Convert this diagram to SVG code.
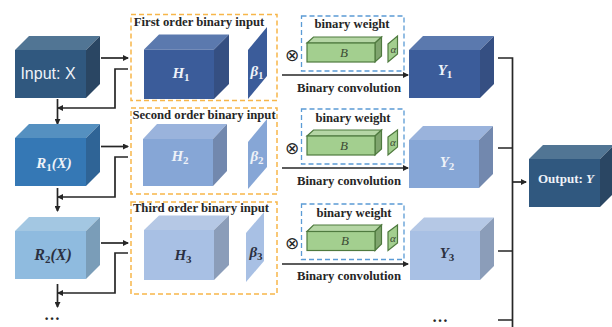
<svg xmlns="http://www.w3.org/2000/svg" width="612" height="327" viewBox="0 0 612 327">
<style>
text{font-family:"Liberation Serif",serif;text-anchor:middle}
.cap{font-size:12.700px;font-weight:bold;fill:#262626}
.cub{font-size:15px;font-weight:bold;font-style:italic}
.sub{font-size:11px;font-style:normal}
.w{fill:#eef2f8}
.d{fill:#262c3a}
.org{fill:none;stroke:#f7b64a;stroke-width:1.5;stroke-dasharray:5 3}
.blu{fill:none;stroke:#5b9bd5;stroke-width:1.3;stroke-dasharray:5 3}
.ln{fill:none;stroke:#262626;stroke-width:1.7}
.gr{stroke:#4f7a3f;stroke-width:1.2}
.b{font-size:13px;font-style:italic;fill:#3c4a35}
.al{font-size:11px;font-style:italic;fill:#3c4a35}
.ot{font-size:17px;fill:#262626;font-family:"DejaVu Sans",sans-serif}
.dots{font-size:16px;font-weight:bold;fill:#262626}
</style>
<defs>
<marker id="a" markerWidth="6" markerHeight="6" refX="5" refY="3" orient="auto" markerUnits="userSpaceOnUse"><path d="M0,0L6,3L0,6z" fill="#262626"/></marker>
</defs>
<rect width="612" height="327" fill="#fff"/>
<g id="connectors">
<path class="ln" d="M101,58H128" marker-end="url(#a)"/>
<path class="ln" d="M128,69H115V108H58" marker-end="url(#a)"/>
<path class="ln" d="M57.500,99V124" marker-end="url(#a)"/>
<path class="ln" d="M101,146.500H128" marker-end="url(#a)"/>
<path class="ln" d="M128,157H115V197H58" marker-end="url(#a)"/>
<path class="ln" d="M57.500,188V211" marker-end="url(#a)"/>
<path class="ln" d="M101,243H128" marker-end="url(#a)"/>
<path class="ln" d="M128,253H115V293H58" marker-end="url(#a)"/>
<path class="ln" d="M57.500,284V307" marker-end="url(#a)"/>
<path class="ln" d="M282,75H408" marker-end="url(#a)"/>
<path class="ln" d="M282,168H408" marker-end="url(#a)"/>
<path class="ln" d="M282,264H408" marker-end="url(#a)"/>
<path class="ln" d="M498,58H512.500V327M498,148H512.500M498,251H512.500M498,320H512.500"/>
<path class="ln" d="M512.500,182H526" marker-end="url(#a)"/>
</g>
<g id="node-input"><path d="M15,50L29,36H100L86,50z" fill="#517594"/><path d="M86,50L100,36V84L86,98z" fill="#2a4663"/><rect x="15" y="50" width="71" height="48" fill="#30587f"/><text x="48" y="79" font-size="16" class="w" style="font-family:'Liberation Sans',sans-serif">Input: X</text></g>
<g id="node-r1"><path d="M15,138L29,124H100L86,138z" fill="#5590c0"/><path d="M86,138L100,124V172L86,186z" fill="#2f6496"/><rect x="15" y="138" width="71" height="48" fill="#3578b5"/><text x="54" y="168" font-size="16" class="cub w">R<tspan class="sub" dy="3">1</tspan><tspan dy="-3">(X)</tspan></text></g>
<g id="node-r2"><path d="M15,231L29,217H100L86,231z" fill="#a3c7e2"/><path d="M86,231L100,217V265L86,279z" fill="#7a9db8"/><rect x="15" y="231" width="71" height="48" fill="#8fbbdf"/><text x="53" y="260" class="cub" fill="#2b3040" style="font-size:16px">R<tspan class="sub" dy="3">2</tspan><tspan dy="-3">(X)</tspan></text></g>
<g id="node-more-left"><text class="dots" x="52" y="320">…</text></g>
<g id="group-first"><rect class="org" x="131" y="14.500" width="146" height="86"/><text class="cap" x="199" y="26">First order binary input</text>
<path d="M144,49.500L159,34.500H229L214,49.500z" fill="#5b79ae"/><path d="M214,49.500L229,34.500V84L214,99z" fill="#354f82"/><rect x="144" y="49.500" width="70" height="49.500" fill="#3b5c9a"/><text x="181" y="78" class="cub w">H<tspan class="sub" dy="3">1</tspan></text>
<path d="M248,50L267,27V76L248,99z" fill="#3b5c9a"/><text x="257" y="76" class="cub w">β<tspan class="sub" dy="3">1</tspan></text></g>
<g id="group-second"><rect class="org" x="131" y="108" width="146" height="86"/><text class="cap" x="204" y="119">Second order binary input</text>
<path d="M143,139L157,124H227L213,139z" fill="#9ab3dc"/><path d="M213,139L227,124V171L213,186z" fill="#7288ae"/><rect x="143" y="139" width="70" height="47" fill="#86a6d6"/><text x="180" y="161" class="cub w">H<tspan class="sub" dy="3">2</tspan></text>
<path d="M248,142L267,119V167L248,189z" fill="#86a6d6"/><text x="257" y="161" class="cub w">β<tspan class="sub" dy="3">2</tspan></text></g>
<g id="group-third"><rect class="org" x="131" y="202" width="146" height="92"/><text class="cap" x="201" y="212">Third order binary input</text>
<path d="M144,230L159,215.500H229L214,230z" fill="#b5c8e5"/><path d="M214,230L229,215.500V265L214,280z" fill="#8b9db9"/><rect x="144" y="230" width="70" height="50" fill="#a8c0e4"/><text x="183" y="260" class="cub" fill="#2b3040">H<tspan class="sub" dy="3">3</tspan></text>
<path d="M246,233L264,212V261L246,282z" fill="#a8c0e4"/><text x="256" y="257" class="cub" fill="#2b3040">β<tspan class="sub" dy="3">3</tspan></text></g>
<g id="weight-1"><rect class="blu" x="301.500" y="16" width="102.500" height="55"/><text class="cap" x="352" y="28">binary weight</text>
<path class="gr" d="M307,43L313.500,37H381.500L375,43z" fill="#b5d6a5"/><path class="gr" d="M375,43L381.500,37V56L375,62z" fill="#7fa56e"/><rect class="gr" x="307" y="43" width="68" height="19" fill="#a3cf8f"/><text class="b" x="344" y="57">B</text>
<path class="gr" d="M388,44L397.500,36V54L388,62z" fill="#a3cf8f" stroke="#2f3d2a"/><text class="al" x="393.500" y="53">α</text>
<text class="ot" x="292" y="61">⊗</text><text class="cap" x="349" y="92">Binary convolution</text></g>
<g id="weight-2"><rect class="blu" x="301.500" y="109" width="102.500" height="55"/><text class="cap" x="353" y="122">binary weight</text>
<path class="gr" d="M307,136L313.500,130H381.500L375,136z" fill="#b5d6a5"/><path class="gr" d="M375,136L381.500,130V149L375,155z" fill="#7fa56e"/><rect class="gr" x="307" y="136" width="68" height="19" fill="#a3cf8f"/><text class="b" x="344" y="150">B</text>
<path class="gr" d="M388,137L397.500,130V147L388,155z" fill="#a3cf8f" stroke="#2f3d2a"/><text class="al" x="393" y="146">α</text>
<text class="ot" x="292" y="154">⊗</text><text class="cap" x="349" y="185">Binary convolution</text></g>
<g id="weight-3"><rect class="blu" x="301.500" y="204" width="102.500" height="55.500"/><text class="cap" x="354" y="217">binary weight</text>
<path class="gr" d="M307,231.500L313.500,225H381.500L375,231.500z" fill="#b5d6a5"/><path class="gr" d="M375,231.500L381.500,225V244L375,250.500z" fill="#7fa56e"/><rect class="gr" x="307" y="231.500" width="68" height="19" fill="#a3cf8f"/><text class="b" x="345" y="245">B</text>
<path class="gr" d="M388,232L397.500,225V243L388,250.500z" fill="#a3cf8f" stroke="#2f3d2a"/><text class="al" x="393" y="242">α</text>
<text class="ot" x="292" y="249">⊗</text><text class="cap" x="349" y="280">Binary convolution</text></g>
<g id="node-y1"><path d="M409,50L423,36H494L480,50z" fill="#5b79ae"/><path d="M480,50L494,36V84L480,98z" fill="#354f82"/><rect x="409" y="50" width="71" height="48" fill="#3b5c9a"/><text x="445" y="75" class="cub w">Y<tspan class="sub" dy="3">1</tspan></text></g>
<g id="node-y2"><path d="M409,140L423,126H493L479,140z" fill="#9ab3dc"/><path d="M479,140L493,126V174L479,188z" fill="#7288ae"/><rect x="409" y="140" width="70" height="48" fill="#86a6d6"/><text x="447" y="167" class="cub w">Y<tspan class="sub" dy="3">2</tspan></text></g>
<g id="node-y3"><path d="M410,231L424,217.500H494L480,231z" fill="#b5c8e5"/><path d="M480,231L494,217.500V266L480,280z" fill="#8b9db9"/><rect x="410" y="231" width="70" height="49" fill="#a8c0e4"/><text x="447" y="258" class="cub" fill="#2b3040">Y<tspan class="sub" dy="3">3</tspan></text></g>
<g id="node-more-right"><text class="dots" x="440" y="322">…</text></g>
<g id="node-output"><path d="M529,159L543,145H614L600,159z" fill="#517594"/><path d="M600,159L614,145V193L600,207z" fill="#2a4663"/><rect x="529" y="159" width="71" height="48" fill="#30587f"/><text x="566" y="183" font-size="13" font-weight="bold" class="w">Output: <tspan font-style="italic">Y</tspan></text></g>
</svg>
